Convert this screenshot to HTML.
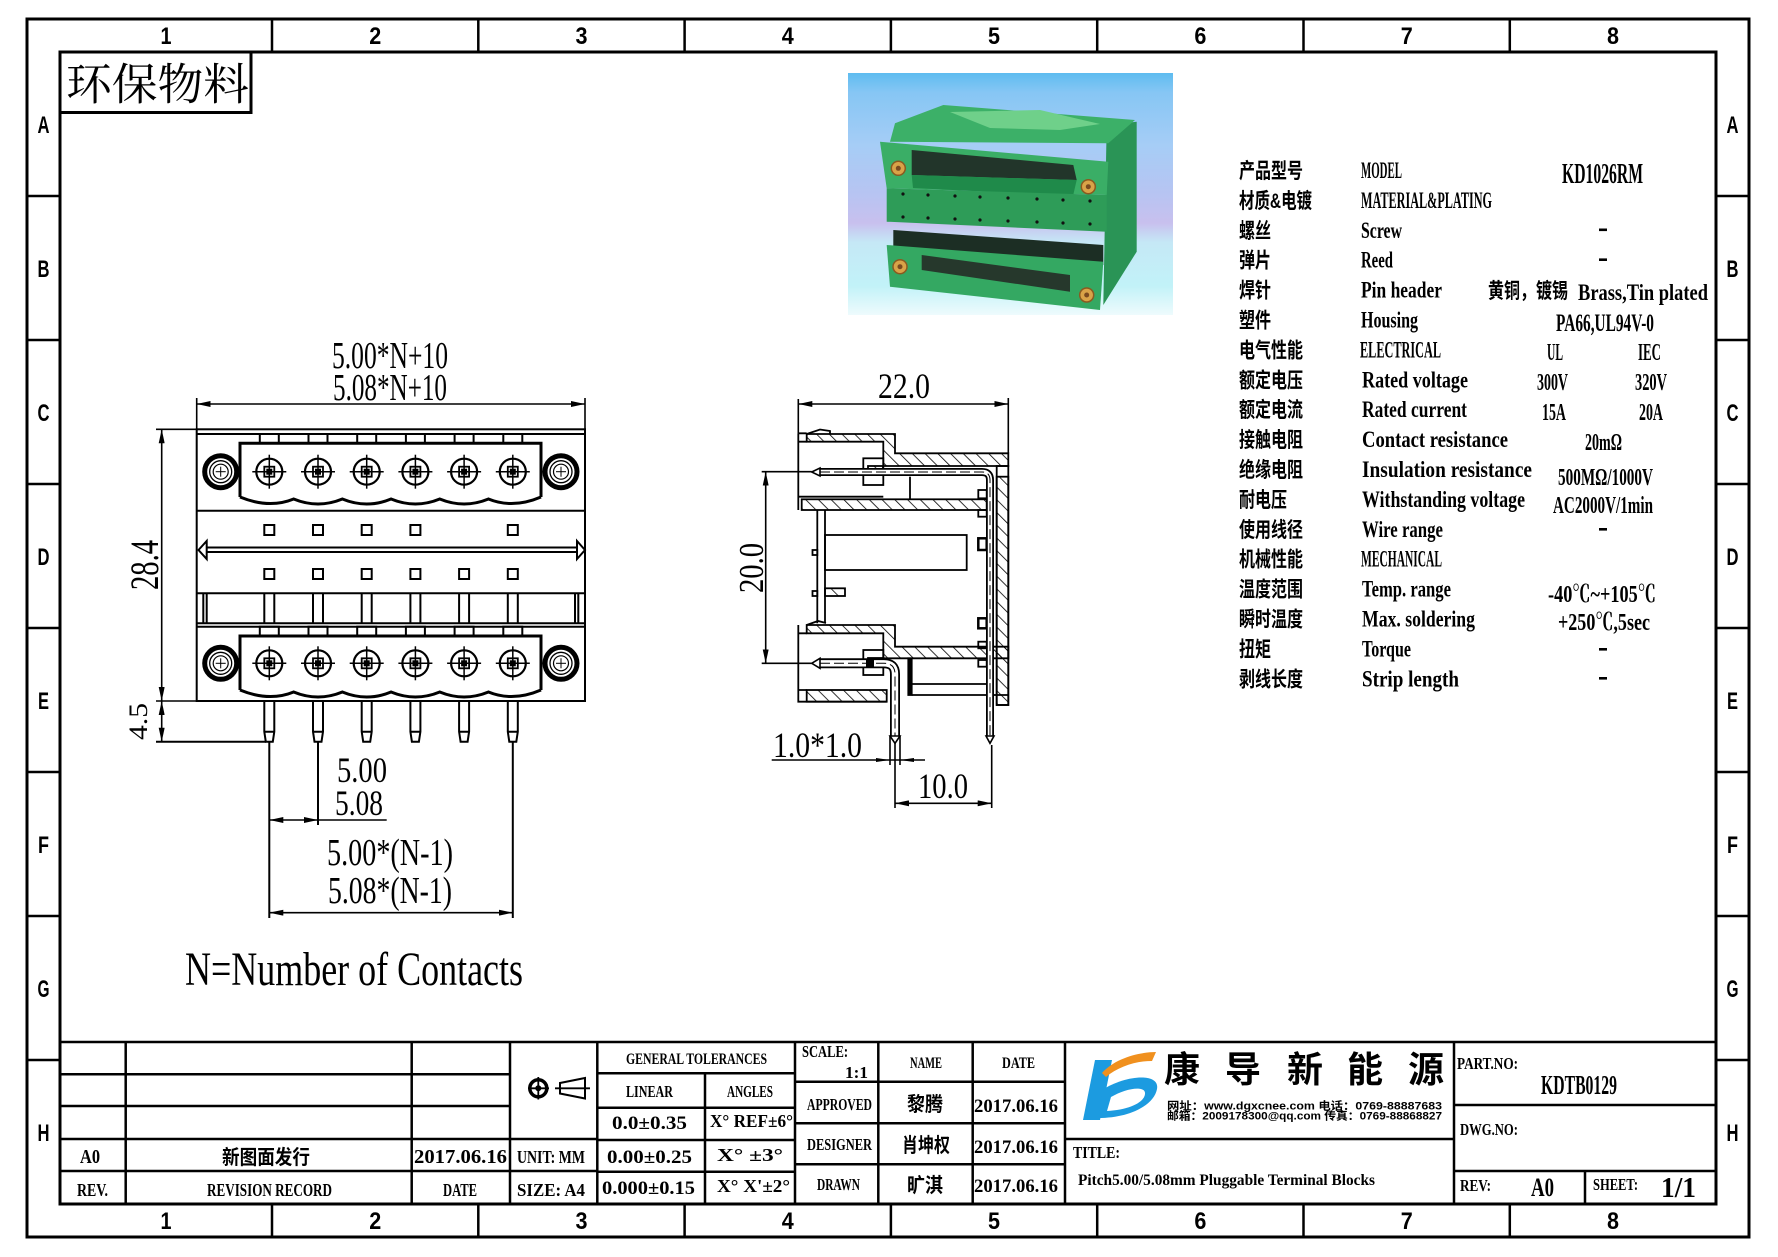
<!DOCTYPE html>
<html><head><meta charset="utf-8"><style>
html,body{margin:0;padding:0;background:#fff;}
svg{display:block;}
text{font-family:"Liberation Serif","Noto Serif CJK SC",serif;fill:#000;}
.b{font-weight:bold;}
.cn text, text.cn{font-family:"Liberation Sans","Noto Sans CJK SC",sans-serif;font-weight:bold;}
.sans text, text.sans{font-family:"Liberation Sans","Noto Sans CJK SC",sans-serif;font-weight:bold;}
.ser{font-family:"Liberation Serif","Noto Serif CJK SC",serif;}
</style></head><body>
<svg width="1778" height="1257" viewBox="0 0 1778 1257" xmlns="http://www.w3.org/2000/svg">
<defs>
<pattern id="h" patternUnits="userSpaceOnUse" width="9" height="9" patternTransform="rotate(-45)"><line x1="0" y1="0" x2="0" y2="9" stroke="#000" stroke-width="1.6"/></pattern>
<marker id="ar" viewBox="0 0 14 6" refX="14" refY="3" markerWidth="14" markerHeight="6" markerUnits="userSpaceOnUse" orient="auto-start-reverse"><path d="M0,0 L14,3 L0,6 z" fill="#000"/></marker>
<g id="t" fill="none" stroke="#000">
<circle r="13" stroke-width="2.2"/>
<line x1="-17" y1="0" x2="17" y2="0" stroke-width="1.5"/>
<line x1="0" y1="-17" x2="0" y2="17" stroke-width="1.5"/>
<rect x="-5" y="-5" width="10" height="10" stroke-width="1.8"/>
<rect x="-3" y="-3" width="6" height="6" fill="#000" stroke="none"/>
</g>
<g id="s" fill="none" stroke="#000">
<circle r="16" stroke-width="5"/>
<circle r="11" stroke-width="1.3"/>
<circle r="7.5" stroke-width="1.2"/>
<line x1="-5" y1="0" x2="5" y2="0" stroke-width="1"/>
<line x1="0" y1="-5" x2="0" y2="5" stroke-width="1"/>
</g>
<linearGradient id="bg" x1="0" y1="0" x2="0" y2="1">
<stop offset="0" stop-color="#5ebcf0"/>
<stop offset="0.08" stop-color="#86c6f4"/>
<stop offset="0.3" stop-color="#a6cdf6"/>
<stop offset="0.5" stop-color="#b7c4f2"/>
<stop offset="0.62" stop-color="#c8c0ee"/>
<stop offset="0.7" stop-color="#c5e8f6"/>
<stop offset="0.88" stop-color="#c2f2f8"/>
<stop offset="1" stop-color="#eefbfd"/>
</linearGradient>
<clipPath id="pc"><rect x="848" y="73" width="325" height="242"/></clipPath>
</defs>

<!-- FRAME -->
<g stroke="#000" fill="none" stroke-width="3">
<rect x="27" y="19" width="1722" height="1218"/>
<rect x="60" y="52" width="1656" height="1152"/>
</g>
<g stroke="#000" stroke-width="2.5">
<path d="M272,19V52M478.3,19V52M684.6,19V52M890.9,19V52M1097.2,19V52M1303.5,19V52M1509.8,19V52"/>
<path d="M272,1204V1237M478.3,1204V1237M684.6,1204V1237M890.9,1204V1237M1097.2,1204V1237M1303.5,1204V1237M1509.8,1204V1237"/>
<path d="M27,196H60M27,340H60M27,484H60M27,628H60M27,772H60M27,916H60M27,1060H60"/>
<path d="M1716,196H1749M1716,340H1749M1716,484H1749M1716,628H1749M1716,772H1749M1716,916H1749M1716,1060H1749"/>
</g>
<g class="sans" font-size="24" text-anchor="middle">
<text x="166" y="44" textLength="11" lengthAdjust="spacingAndGlyphs">1</text>
<text x="375.2" y="44" textLength="12" lengthAdjust="spacingAndGlyphs">2</text>
<text x="581.5" y="44" textLength="12" lengthAdjust="spacingAndGlyphs">3</text>
<text x="787.8" y="44" textLength="12" lengthAdjust="spacingAndGlyphs">4</text>
<text x="994" y="44" textLength="12" lengthAdjust="spacingAndGlyphs">5</text>
<text x="1200.4" y="44" textLength="12" lengthAdjust="spacingAndGlyphs">6</text>
<text x="1406.7" y="44" textLength="12" lengthAdjust="spacingAndGlyphs">7</text>
<text x="1613" y="44" textLength="12" lengthAdjust="spacingAndGlyphs">8</text>
<text x="166" y="1229" textLength="11" lengthAdjust="spacingAndGlyphs">1</text>
<text x="375.2" y="1229" textLength="12" lengthAdjust="spacingAndGlyphs">2</text>
<text x="581.5" y="1229" textLength="12" lengthAdjust="spacingAndGlyphs">3</text>
<text x="787.8" y="1229" textLength="12" lengthAdjust="spacingAndGlyphs">4</text>
<text x="994" y="1229" textLength="12" lengthAdjust="spacingAndGlyphs">5</text>
<text x="1200.4" y="1229" textLength="12" lengthAdjust="spacingAndGlyphs">6</text>
<text x="1406.7" y="1229" textLength="12" lengthAdjust="spacingAndGlyphs">7</text>
<text x="1613" y="1229" textLength="12" lengthAdjust="spacingAndGlyphs">8</text>
<text x="43.5" y="133" textLength="12" lengthAdjust="spacingAndGlyphs">A</text>
<text x="43.5" y="277" textLength="12" lengthAdjust="spacingAndGlyphs">B</text>
<text x="43.5" y="421" textLength="12" lengthAdjust="spacingAndGlyphs">C</text>
<text x="43.5" y="565" textLength="12" lengthAdjust="spacingAndGlyphs">D</text>
<text x="43.5" y="709" textLength="11" lengthAdjust="spacingAndGlyphs">E</text>
<text x="43.5" y="853" textLength="11" lengthAdjust="spacingAndGlyphs">F</text>
<text x="43.5" y="997" textLength="12" lengthAdjust="spacingAndGlyphs">G</text>
<text x="43.5" y="1141" textLength="12" lengthAdjust="spacingAndGlyphs">H</text>
<text x="1732.5" y="133" textLength="12" lengthAdjust="spacingAndGlyphs">A</text>
<text x="1732.5" y="277" textLength="12" lengthAdjust="spacingAndGlyphs">B</text>
<text x="1732.5" y="421" textLength="12" lengthAdjust="spacingAndGlyphs">C</text>
<text x="1732.5" y="565" textLength="12" lengthAdjust="spacingAndGlyphs">D</text>
<text x="1732.5" y="709" textLength="11" lengthAdjust="spacingAndGlyphs">E</text>
<text x="1732.5" y="853" textLength="11" lengthAdjust="spacingAndGlyphs">F</text>
<text x="1732.5" y="997" textLength="12" lengthAdjust="spacingAndGlyphs">G</text>
<text x="1732.5" y="1141" textLength="12" lengthAdjust="spacingAndGlyphs">H</text>
</g>

<!-- 环保物料 -->
<rect x="60" y="52" width="191" height="60.5" fill="none" stroke="#000" stroke-width="3"/>
<text class="ser" x="66" y="99.5" font-size="44" textLength="183" lengthAdjust="spacingAndGlyphs">环保物料</text>

<!-- PHOTO -->
<g clip-path="url(#pc)">
<rect x="848" y="73" width="325" height="242" fill="url(#bg)"/>
<polygon points="1106.7,125 1136.7,121.7 1136.7,251.7 1103.3,305" fill="#2a9456"/>
<polygon points="890,141.7 895,123.3 943.3,105 1135,120 1108.3,143.3" fill="#3cb068"/>
<polygon points="950,112 1040,110 1100,124 1060,130 990,128" fill="#6fd08a"/>
<polygon points="880,141.7 1108.3,161.7 1106.7,195 886.7,188.3" fill="#3aae66"/>
<polygon points="911.7,150 1073.3,165 1076.7,180 911.7,175" fill="#22352a"/>
<polygon points="911.7,175 1076.7,180 1073,196 913,188" fill="#1f8a4a"/>
<polygon points="886.7,188.3 1106.7,195 1106.7,231.7 886.7,221.7" fill="#2e9c58"/>
<g fill="#111">
<circle cx="903" cy="194" r="1.6"/><circle cx="928" cy="195" r="1.6"/><circle cx="955" cy="196" r="1.6"/><circle cx="980" cy="197" r="1.6"/><circle cx="1008" cy="198" r="1.6"/><circle cx="1037" cy="199" r="1.6"/><circle cx="1063" cy="200" r="1.6"/><circle cx="1090" cy="201" r="1.6"/>
<circle cx="903" cy="217" r="1.6"/><circle cx="928" cy="218" r="1.6"/><circle cx="955" cy="219" r="1.6"/><circle cx="980" cy="220" r="1.6"/><circle cx="1008" cy="221" r="1.6"/><circle cx="1037" cy="222" r="1.6"/><circle cx="1063" cy="223" r="1.6"/><circle cx="1090" cy="224" r="1.6"/>
</g>
<polygon points="893.3,230 1103.3,245 1103.3,265 893.3,246.7" fill="#1c2e24"/>
<polygon points="886.7,245 1103.3,261.7 1100,310 890,286.7" fill="#34a862"/>
<polygon points="921.7,255 1070,275 1070,291.7 921.7,270" fill="#26382c"/>
<g fill="#d9a348" stroke="#8a5a20" stroke-width="1.5">
<circle cx="898.3" cy="168.3" r="7"/><circle cx="1088.3" cy="186.7" r="7"/><circle cx="900" cy="266.7" r="7"/><circle cx="1086.7" cy="295" r="7"/>
</g>
<g fill="#7a4a20"><circle cx="898.3" cy="168.3" r="2.5"/><circle cx="1088.3" cy="186.7" r="2.5"/><circle cx="900" cy="266.7" r="2.5"/><circle cx="1086.7" cy="295" r="2.5"/></g>
</g>

<!-- FRONT VIEW -->
<g stroke="#000" fill="none" stroke-width="2">
<rect x="196.7" y="429.3" width="388.3" height="271.7"/>
<line x1="196.7" y1="434" x2="585" y2="434"/>
<rect x="259.8" y="434" width="19" height="9.3"/><rect x="308.5" y="434" width="19" height="9.3"/><rect x="357.2" y="434" width="19" height="9.3"/><rect x="405.9" y="434" width="19" height="9.3"/><rect x="454.6" y="434" width="19" height="9.3"/><rect x="503.3" y="434" width="19" height="9.3"/>
<path d="M240,497 V443.3 H541 V497" stroke-width="3"/>
<path d="M240,497 Q269.3,509 293.65,499 Q318,509 342.35,499 Q366.7,509 391.05,499 Q415.4,509 439.75,499 Q464.1,509 488.45,499 Q512.8,509 541,497" stroke-width="3"/>
<line x1="196.7" y1="510.7" x2="585" y2="510.7"/>
<rect x="264.3" y="525" width="10" height="10"/><rect x="313" y="525" width="10" height="10"/><rect x="361.7" y="525" width="10" height="10"/><rect x="410.4" y="525" width="10" height="10"/><rect x="507.8" y="525" width="10" height="10"/>
<line x1="206.7" y1="547.5" x2="577" y2="547.5"/><line x1="206.7" y1="552" x2="577" y2="552"/>
<polygon points="198.5,550 206.7,541 206.7,559"/>
<polygon points="585,550 577,541 577,559"/>
<rect x="264.3" y="569" width="10" height="10"/><rect x="313" y="569" width="10" height="10"/><rect x="361.7" y="569" width="10" height="10"/><rect x="410.4" y="569" width="10" height="10"/><rect x="459.1" y="569" width="10" height="10"/><rect x="507.8" y="569" width="10" height="10"/>
<line x1="196.7" y1="593.3" x2="585" y2="593.3"/>
<path d="M264.3,593.3V623.3M274.3,593.3V623.3M313,593.3V623.3M323,593.3V623.3M361.7,593.3V623.3M371.7,593.3V623.3M410.4,593.3V623.3M420.4,593.3V623.3M459.1,593.3V623.3M469.1,593.3V623.3M507.8,593.3V623.3M517.8,593.3V623.3M203.3,593.3V623.3M206.7,593.3V623.3M575,593.3V623.3M578.3,593.3V623.3"/>
<line x1="196.7" y1="623.3" x2="585" y2="623.3"/><line x1="196.7" y1="626.7" x2="585" y2="626.7"/>
<rect x="259.8" y="626.7" width="19" height="9.3"/><rect x="308.5" y="626.7" width="19" height="9.3"/><rect x="357.2" y="626.7" width="19" height="9.3"/><rect x="405.9" y="626.7" width="19" height="9.3"/><rect x="454.6" y="626.7" width="19" height="9.3"/><rect x="503.3" y="626.7" width="19" height="9.3"/>
<path d="M240,690 V636 H541 V690" stroke-width="3"/>
<path d="M240,690 Q269.3,702 293.65,692 Q318,702 342.35,692 Q366.7,702 391.05,692 Q415.4,702 439.75,692 Q464.1,702 488.45,692 Q512.8,702 541,690" stroke-width="3"/>
<!-- pins below -->
<path d="M264.3,701V731.7L265.8,741.7H272.8L274.3,731.7V701M264.3,731.7H274.3"/>
<path d="M313,701V731.7L314.5,741.7H321.5L323,731.7V701M313,731.7H323"/>
<path d="M361.7,701V731.7L363.2,741.7H370.2L371.7,731.7V701M361.7,731.7H371.7"/>
<path d="M410.4,701V731.7L411.9,741.7H418.9L420.4,731.7V701M410.4,731.7H420.4"/>
<path d="M459.1,701V731.7L460.6,741.7H467.6L469.1,731.7V701M459.1,731.7H469.1"/>
<path d="M507.8,701V731.7L509.3,741.7H516.3L517.8,731.7V701M507.8,731.7H517.8"/>
</g>
<use href="#s" x="220.7" y="471.7"/><use href="#s" x="561" y="471.7"/><use href="#s" x="220.7" y="663.3"/><use href="#s" x="561" y="663.3"/>
<use href="#t" x="269.3" y="471.7"/><use href="#t" x="318" y="471.7"/><use href="#t" x="366.7" y="471.7"/><use href="#t" x="415.4" y="471.7"/><use href="#t" x="464.1" y="471.7"/><use href="#t" x="512.8" y="471.7"/>
<use href="#t" x="269.3" y="663.3"/><use href="#t" x="318" y="663.3"/><use href="#t" x="366.7" y="663.3"/><use href="#t" x="415.4" y="663.3"/><use href="#t" x="464.1" y="663.3"/><use href="#t" x="512.8" y="663.3"/>

<!-- FRONT DIMS -->
<g stroke="#000" fill="none" stroke-width="1.6">
<line x1="196.7" y1="404" x2="585" y2="404" marker-start="url(#ar)" marker-end="url(#ar)"/>
<line x1="196.7" y1="398" x2="196.7" y2="429.3"/><line x1="585" y1="398" x2="585" y2="429.3"/>
<line x1="161.7" y1="429.3" x2="161.7" y2="701" marker-start="url(#ar)" marker-end="url(#ar)"/>
<line x1="161.7" y1="701" x2="161.7" y2="741.7" marker-start="url(#ar)" marker-end="url(#ar)"/>
<line x1="156" y1="429.3" x2="196.7" y2="429.3"/><line x1="156" y1="701" x2="196.7" y2="701"/>
<line x1="156" y1="741.7" x2="266" y2="741.7" stroke-width="2"/>
<line x1="269.3" y1="742" x2="269.3" y2="918" stroke-width="2"/>
<line x1="318" y1="742" x2="318" y2="825" stroke-width="2"/>
<line x1="512.8" y1="742" x2="512.8" y2="918" stroke-width="2"/>
<line x1="269.3" y1="820" x2="318" y2="820" marker-start="url(#ar)" marker-end="url(#ar)"/>
<line x1="318" y1="820" x2="386.7" y2="820"/>
<line x1="269.3" y1="912.7" x2="512.8" y2="912.7" marker-start="url(#ar)" marker-end="url(#ar)"/>
</g>
<g font-size="38">
<text x="332" y="368" textLength="116" lengthAdjust="spacingAndGlyphs">5.00*N+10</text>
<text x="333" y="400" textLength="114" lengthAdjust="spacingAndGlyphs">5.08*N+10</text>
<text transform="translate(158,590) rotate(-90)" font-size="40" textLength="50" lengthAdjust="spacingAndGlyphs">28.4</text>
<text transform="translate(147,740) rotate(-90)" font-size="26" textLength="37" lengthAdjust="spacingAndGlyphs">4.5</text>
<text x="337" y="782" font-size="36" textLength="50" lengthAdjust="spacingAndGlyphs">5.00</text>
<text x="335" y="815" font-size="36" textLength="48" lengthAdjust="spacingAndGlyphs">5.08</text>
<text x="327" y="865" textLength="126" lengthAdjust="spacingAndGlyphs">5.00*(N-1)</text>
<text x="328" y="903" textLength="124" lengthAdjust="spacingAndGlyphs">5.08*(N-1)</text>
<text x="185" y="985" font-size="48" textLength="338" lengthAdjust="spacingAndGlyphs">N=Number of Contacts</text>
</g>

<!-- SIDE VIEW -->
<g stroke="#000" stroke-width="1.8" fill="none">
<path fill="url(#h)" d="M806.7,434 H895 V453.3 H1008.3 V466 H883.3 V441.7 H806.7 Z"/>
<rect fill="url(#h)" x="996.7" y="476.7" width="11.6" height="228.3"/>
<rect fill="url(#h)" x="801.7" y="499.3" width="185" height="10.7"/>
<path fill="url(#h)" d="M806.7,625 H895 V646.7 H1008.3 V658.3 H883.3 V633.3 H806.7 Z"/>
<rect fill="url(#h)" x="806.7" y="690" width="80" height="11.7"/>
<rect fill="url(#h)" x="825" y="588.3" width="20" height="7.7"/>
<path d="M798.3,433.3 V510 M798.3,625 V701.7 H886.7 M798.3,433.3 H806.7 M806.7,434 L820,429.5 L830,431 L830,434"/>
<path d="M806.7,625 L818,621 L826,623"/>
<path d="M798.3,441.7 H806.7 M798.3,496.7 H883.3 M798.3,633.3 H806.7 M798.3,690 H806.7"/>
<rect x="996.7" y="466" width="11.6" height="239"/>
<path d="M817.3,510 V623.3 M825,510 V623.3"/>
<rect x="812.5" y="550" width="4.8" height="5"/><rect x="812.5" y="591" width="4.8" height="5"/>
<rect x="825" y="535" width="141.7" height="35"/>
<rect x="863.3" y="458.3" width="20" height="26.7"/>
<rect fill="url(#h)" x="868" y="466" width="15" height="8"/>
<rect x="863.3" y="650" width="20" height="25"/>
<rect fill="url(#h)" x="868" y="658" width="15" height="8"/>
<path d="M910,476.7 V499.3"/>
<rect x="978.3" y="490" width="8.4" height="8.3"/><rect x="978.3" y="510" width="8.4" height="6.7"/><rect x="978.3" y="538.3" width="8.4" height="11.7" stroke-width="2.5"/>
<rect x="978.3" y="618.3" width="8.4" height="10" stroke-width="2.5"/><rect x="978.3" y="641.7" width="8.4" height="6.6"/><rect x="978.3" y="660" width="8.4" height="6.7"/>
<path d="M911.7,684 H986.7 M911.7,695 H1008.3"/>
<rect x="908.3" y="658.3" width="3.4" height="36.7" fill="#000"/>
</g>
<!-- pins side -->
<g fill="none" stroke-linecap="butt">
<path d="M820,472 H982 Q990,472 990,480 V736" stroke="#000" stroke-width="8"/>
<path d="M820,472 H982 Q990,472 990,480 V736" stroke="#fff" stroke-width="4.4"/>
<path d="M820,472 H982 Q990,472 990,480 V736" stroke="#000" stroke-width="1" stroke-dasharray="10 4"/>
<path d="M820,663.3 H884 Q895,663.3 895,674 V736" stroke="#000" stroke-width="10"/>
<path d="M820,663.3 H884 Q895,663.3 895,674 V736" stroke="#fff" stroke-width="6.4"/>
<path d="M820,663.3 H884 Q895,663.3 895,674 V736" stroke="#000" stroke-width="1" stroke-dasharray="10 4"/>
</g>
<g stroke="#000" stroke-width="1.6" fill="#fff">
<polygon points="811.7,472 820,468 820,476"/>
<polygon points="811.7,663.3 820,658.3 820,668.3"/>
<polygon points="986,736 990,743.3 994,736"/>
<polygon points="890,736 895,743.3 900,736"/>
</g>
<rect x="866" y="660" width="8" height="7" fill="#000"/>
<!-- side dims -->
<g stroke="#000" stroke-width="1.6" fill="none">
<line x1="798.3" y1="404" x2="1008.3" y2="404" marker-start="url(#ar)" marker-end="url(#ar)"/>
<line x1="798.3" y1="399" x2="798.3" y2="433.3"/><line x1="1008.3" y1="398" x2="1008.3" y2="453.3"/>
<line x1="765.7" y1="471.7" x2="765.7" y2="663.3" marker-start="url(#ar)" marker-end="url(#ar)"/>
<line x1="761.7" y1="471.7" x2="811.7" y2="471.7"/><line x1="761.7" y1="663.3" x2="811.7" y2="663.3"/>
<line x1="771.7" y1="760" x2="925" y2="760"/>
<line x1="890" y1="736" x2="890" y2="765"/><line x1="900" y1="736" x2="900" y2="765"/>
<line x1="895" y1="803.3" x2="991.7" y2="803.3" marker-start="url(#ar)" marker-end="url(#ar)"/>
<line x1="895" y1="743" x2="895" y2="808"/><line x1="991.7" y1="745" x2="991.7" y2="808"/>
</g>
<polygon points="876,758 890,760 876,762" fill="#000"/>
<polygon points="914,758 900,760 914,762" fill="#000"/>
<g font-size="36">
<text x="878" y="398" textLength="52" lengthAdjust="spacingAndGlyphs">22.0</text>
<text transform="translate(763,593) rotate(-90)" font-size="35" textLength="50" lengthAdjust="spacingAndGlyphs">20.0</text>
<text x="773" y="757" textLength="89" lengthAdjust="spacingAndGlyphs">1.0*1.0</text>
<text x="918" y="798" textLength="50" lengthAdjust="spacingAndGlyphs">10.0</text>
</g>

<!-- SPEC TABLE -->
<g class="cn" font-size="21">
<text x="1239" y="178" textLength="64" lengthAdjust="spacingAndGlyphs">产品型号</text>
<text x="1239" y="207.9" textLength="73" lengthAdjust="spacingAndGlyphs">材质&amp;电镀</text>
<text x="1239" y="237.8" textLength="32" lengthAdjust="spacingAndGlyphs">螺丝</text>
<text x="1239" y="267.7" textLength="32" lengthAdjust="spacingAndGlyphs">弹片</text>
<text x="1239" y="297.6" textLength="32" lengthAdjust="spacingAndGlyphs">焊针</text>
<text x="1239" y="327.5" textLength="32" lengthAdjust="spacingAndGlyphs">塑件</text>
<text x="1239" y="357.4" textLength="64" lengthAdjust="spacingAndGlyphs">电气性能</text>
<text x="1239" y="387.3" textLength="64" lengthAdjust="spacingAndGlyphs">额定电压</text>
<text x="1239" y="417.2" textLength="64" lengthAdjust="spacingAndGlyphs">额定电流</text>
<text x="1239" y="447.1" textLength="64" lengthAdjust="spacingAndGlyphs">接触电阻</text>
<text x="1239" y="477" textLength="64" lengthAdjust="spacingAndGlyphs">绝缘电阻</text>
<text x="1239" y="506.9" textLength="48" lengthAdjust="spacingAndGlyphs">耐电压</text>
<text x="1239" y="536.8" textLength="64" lengthAdjust="spacingAndGlyphs">使用线径</text>
<text x="1239" y="566.7" textLength="64" lengthAdjust="spacingAndGlyphs">机械性能</text>
<text x="1239" y="596.6" textLength="64" lengthAdjust="spacingAndGlyphs">温度范围</text>
<text x="1239" y="626.5" textLength="64" lengthAdjust="spacingAndGlyphs">瞬时温度</text>
<text x="1239" y="656.4" textLength="32" lengthAdjust="spacingAndGlyphs">扭矩</text>
<text x="1239" y="686.3" textLength="64" lengthAdjust="spacingAndGlyphs">剥线长度</text>
<text x="1488" y="298" textLength="80" lengthAdjust="spacingAndGlyphs">黄铜，镀锡</text>
</g>
<g class="b" font-size="23">
<text x="1361" y="178" textLength="41" lengthAdjust="spacingAndGlyphs">MODEL</text>
<text x="1361" y="207.9" textLength="131" lengthAdjust="spacingAndGlyphs">MATERIAL&amp;PLATING</text>
<text x="1361" y="237.8" textLength="41" lengthAdjust="spacingAndGlyphs">Screw</text>
<text x="1361" y="267.7" textLength="32" lengthAdjust="spacingAndGlyphs">Reed</text>
<text x="1361" y="297.6" textLength="81" lengthAdjust="spacingAndGlyphs">Pin header</text>
<text x="1361" y="327.5" textLength="57" lengthAdjust="spacingAndGlyphs">Housing</text>
<text x="1360" y="357.4" textLength="81" lengthAdjust="spacingAndGlyphs">ELECTRICAL</text>
<text x="1362" y="387.3" textLength="106" lengthAdjust="spacingAndGlyphs">Rated voltage</text>
<text x="1362" y="417.2" textLength="105" lengthAdjust="spacingAndGlyphs">Rated current</text>
<text x="1362" y="447.1" textLength="146" lengthAdjust="spacingAndGlyphs">Contact resistance</text>
<text x="1362" y="477" textLength="170" lengthAdjust="spacingAndGlyphs">Insulation resistance</text>
<text x="1362" y="506.9" textLength="163" lengthAdjust="spacingAndGlyphs">Withstanding voltage</text>
<text x="1362" y="536.8" textLength="81" lengthAdjust="spacingAndGlyphs">Wire range</text>
<text x="1361" y="566.7" textLength="81" lengthAdjust="spacingAndGlyphs">MECHANICAL</text>
<text x="1362" y="596.6" textLength="89" lengthAdjust="spacingAndGlyphs">Temp. range</text>
<text x="1362" y="626.5" textLength="113" lengthAdjust="spacingAndGlyphs">Max. soldering</text>
<text x="1362" y="656.4" textLength="49" lengthAdjust="spacingAndGlyphs">Torque</text>
<text x="1362" y="686.3" textLength="97" lengthAdjust="spacingAndGlyphs">Strip length</text>
<text x="1578" y="300" textLength="130" lengthAdjust="spacingAndGlyphs">Brass,Tin plated</text>
<text x="1562" y="183" font-size="29" textLength="81" lengthAdjust="spacingAndGlyphs">KD1026RM</text>
<text x="1556" y="331" font-size="25" textLength="98" lengthAdjust="spacingAndGlyphs">PA66,UL94V-0</text>
<text x="1547" y="360" font-size="24" textLength="16" lengthAdjust="spacingAndGlyphs">UL</text>
<text x="1638" y="360" font-size="24" textLength="23" lengthAdjust="spacingAndGlyphs">IEC</text>
<text x="1537" y="390" font-size="24" textLength="31" lengthAdjust="spacingAndGlyphs">300V</text>
<text x="1635" y="390" font-size="24" textLength="32" lengthAdjust="spacingAndGlyphs">320V</text>
<text x="1542" y="420" font-size="24" textLength="24" lengthAdjust="spacingAndGlyphs">15A</text>
<text x="1639" y="420" font-size="24" textLength="24" lengthAdjust="spacingAndGlyphs">20A</text>
<text x="1585" y="450" font-size="24" textLength="37" lengthAdjust="spacingAndGlyphs">20mΩ</text>
<text x="1558" y="485" font-size="24" textLength="95" lengthAdjust="spacingAndGlyphs">500MΩ/1000V</text>
<text x="1553" y="513" font-size="24" textLength="100" lengthAdjust="spacingAndGlyphs">AC2000V/1min</text>
<text x="1548" y="602" font-size="24" textLength="108" lengthAdjust="spacingAndGlyphs">-40℃~+105℃</text>
<text x="1558" y="630" font-size="24" textLength="92" lengthAdjust="spacingAndGlyphs">+250℃,5sec</text>
</g>
<g fill="#000">
<rect x="1599" y="228.5" width="8" height="2.6"/>
<rect x="1599" y="258.4" width="8" height="2.6"/>
<rect x="1599" y="528" width="8" height="2.6"/>
<rect x="1599" y="648" width="8" height="2.6"/>
<rect x="1599" y="677" width="8" height="2.6"/>
</g>

<!-- TITLE BLOCK -->
<g stroke="#000" stroke-width="2.5" fill="none">
<path d="M60,1042 H1716"/>
<path d="M60,1074.3 H510 M60,1106 H510 M60,1139 H597.3 M60,1171 H597.3"/>
<path d="M125.7,1042 V1204 M411.7,1042 V1204 M510,1042 V1204 M597.3,1042 V1204"/>
<path d="M597.3,1073.3 H795 M597.3,1107.7 H795 M597.3,1140 H795 M597.3,1171.7 H795 M705,1073.3 V1204"/>
<path d="M795,1042 V1204 M878.3,1042 V1204 M972.7,1042 V1204 M1065,1042 V1204"/>
<path d="M795,1081.7 H1065 M795,1123.3 H1065 M795,1164.3 H1065"/>
<path d="M1065,1139 H1454 M1454,1042 V1204"/>
<path d="M1454,1105 H1716 M1454,1171 H1716 M1585,1171 V1204"/>
</g>
<!-- projection symbol -->
<g stroke="#000" fill="none">
<circle cx="538.3" cy="1088.3" r="8.5" stroke-width="3.5"/>
<circle cx="538.3" cy="1088.3" r="3" fill="#000" stroke="none"/>
<path d="M528,1088.3 H549 M538.3,1077 V1099.5" stroke-width="1.8"/>
<polygon points="560,1083 585,1078 585,1098.5 560,1093.5" stroke-width="2"/>
<path d="M555,1088.3 H590" stroke-width="1.8"/>
</g>
<g class="b" font-size="20">
<text x="80" y="1163" textLength="20" lengthAdjust="spacingAndGlyphs">A0</text>
<text x="414" y="1163" textLength="93" lengthAdjust="spacingAndGlyphs">2017.06.16</text>
<text x="77" y="1196" font-size="18" textLength="31" lengthAdjust="spacingAndGlyphs">REV.</text>
<text x="207" y="1196" font-size="18" textLength="125" lengthAdjust="spacingAndGlyphs">REVISION RECORD</text>
<text x="443" y="1196" font-size="18" textLength="34" lengthAdjust="spacingAndGlyphs">DATE</text>
<text x="517" y="1163" font-size="18" textLength="68" lengthAdjust="spacingAndGlyphs">UNIT: MM</text>
<text x="517" y="1196" font-size="18" textLength="68" lengthAdjust="spacingAndGlyphs">SIZE: A4</text>
<text x="626" y="1064" font-size="16" textLength="141" lengthAdjust="spacingAndGlyphs">GENERAL TOLERANCES</text>
<text x="626" y="1097" font-size="17" textLength="47" lengthAdjust="spacingAndGlyphs">LINEAR</text>
<text x="727" y="1097" font-size="17" textLength="46" lengthAdjust="spacingAndGlyphs">ANGLES</text>
<text x="612" y="1129" font-size="19" textLength="75" lengthAdjust="spacingAndGlyphs">0.0±0.35</text>
<text x="710" y="1127" font-size="18" textLength="83" lengthAdjust="spacingAndGlyphs">X° REF±6°</text>
<text x="607" y="1163" font-size="19" textLength="85" lengthAdjust="spacingAndGlyphs">0.00±0.25</text>
<text x="717" y="1161" font-size="18" textLength="66" lengthAdjust="spacingAndGlyphs">X° ±3°</text>
<text x="602" y="1194" font-size="19" textLength="93" lengthAdjust="spacingAndGlyphs">0.000±0.15</text>
<text x="717" y="1192" font-size="18" textLength="73" lengthAdjust="spacingAndGlyphs">X° X'±2°</text>
<text x="802" y="1057" font-size="17" textLength="46" lengthAdjust="spacingAndGlyphs">SCALE:</text>
<text x="845" y="1078" font-size="17" textLength="23" lengthAdjust="spacingAndGlyphs">1:1</text>
<text x="910" y="1068" font-size="16" textLength="32" lengthAdjust="spacingAndGlyphs">NAME</text>
<text x="1002" y="1068" font-size="16" textLength="33" lengthAdjust="spacingAndGlyphs">DATE</text>
<text x="807" y="1110" font-size="17" textLength="65" lengthAdjust="spacingAndGlyphs">APPROVED</text>
<text x="807" y="1150" font-size="17" textLength="65" lengthAdjust="spacingAndGlyphs">DESIGNER</text>
<text x="817" y="1190" font-size="17" textLength="43" lengthAdjust="spacingAndGlyphs">DRAWN</text>
<text x="974" y="1112" font-size="19" textLength="84" lengthAdjust="spacingAndGlyphs">2017.06.16</text>
<text x="974" y="1153" font-size="19" textLength="84" lengthAdjust="spacingAndGlyphs">2017.06.16</text>
<text x="974" y="1192" font-size="19" textLength="84" lengthAdjust="spacingAndGlyphs">2017.06.16</text>
<text x="1073" y="1158" font-size="17" textLength="47" lengthAdjust="spacingAndGlyphs">TITLE:</text>
<text x="1078" y="1185" font-size="16" textLength="297" lengthAdjust="spacingAndGlyphs">Pitch5.00/5.08mm Pluggable Terminal Blocks</text>
<text x="1457" y="1069" font-size="17" textLength="61" lengthAdjust="spacingAndGlyphs">PART.NO:</text>
<text x="1541" y="1094" font-size="27" textLength="76" lengthAdjust="spacingAndGlyphs">KDTB0129</text>
<text x="1460" y="1135" font-size="17" textLength="58" lengthAdjust="spacingAndGlyphs">DWG.NO:</text>
<text x="1460" y="1191" font-size="17" textLength="31" lengthAdjust="spacingAndGlyphs">REV:</text>
<text x="1531" y="1196" font-size="26" textLength="23" lengthAdjust="spacingAndGlyphs">A0</text>
<text x="1593" y="1190" font-size="17" textLength="45" lengthAdjust="spacingAndGlyphs">SHEET:</text>
<text x="1661" y="1197" font-size="28" textLength="35" lengthAdjust="spacingAndGlyphs">1/1</text>
</g>
<g class="cn" font-size="20">
<text x="222" y="1164" textLength="88" lengthAdjust="spacingAndGlyphs">新图面发行</text>
<text x="907" y="1111" textLength="36" lengthAdjust="spacingAndGlyphs">黎腾</text>
<text x="902" y="1152" textLength="48" lengthAdjust="spacingAndGlyphs">肖坤权</text>
<text x="907" y="1192" textLength="36" lengthAdjust="spacingAndGlyphs">旷淇</text>
</g>
<!-- logo -->
<polygon points="1095,1060 1112,1060 1100,1120 1083,1120" fill="#1c9be0"/>
<path d="M1102,1090 C1125,1075 1160,1072 1157,1089 C1154,1105 1130,1118 1098,1118 Z" fill="#1c9be0"/>
<path d="M1111,1097 C1126,1088 1146,1085 1145,1094 C1144,1103 1128,1110 1107,1111 Z" fill="#fff"/>
<path d="M1102,1073 C1115,1058 1140,1052 1156,1052 L1152,1061 C1135,1061 1118,1067 1106,1077 Z" fill="#f0901e"/>
<g class="cn" font-size="36" text-anchor="middle">
<text x="1182" y="1082">康</text>
<text x="1243" y="1082">导</text>
<text x="1305" y="1082">新</text>
<text x="1365" y="1082">能</text>
<text x="1426" y="1082">源</text>
</g>
<g class="cn" font-size="11">
<text x="1167" y="1109.5" textLength="275" lengthAdjust="spacingAndGlyphs">网址：www.dgxcnee.com    电话：0769-88887683</text>
<text x="1167" y="1119.5" textLength="275" lengthAdjust="spacingAndGlyphs">邮箱：2009178300@qq.com 传真：0769-88868827</text>
</g>
</svg>
</body></html>
